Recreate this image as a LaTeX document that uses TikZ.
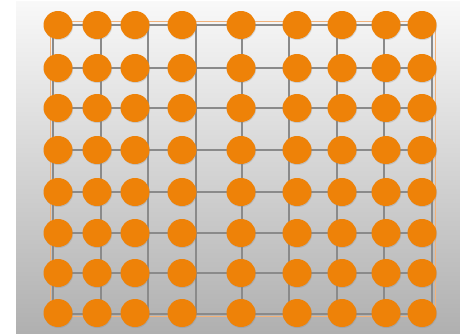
\documentclass[tikz,border=0pt]{standalone}
\usetikzlibrary{shadows,shapes.geometric}
\definecolor{dotorange}{HTML}{EE8208}
\definecolor{gridgray}{HTML}{8A8A8A}
\definecolor{frameorange}{HTML}{F2B27A}
\begin{document}
\begin{tikzpicture}[x=1pt,y=-1pt,
  dot/.style={ellipse,inner sep=0pt,minimum width=29pt,minimum height=28pt,fill=dotorange,
    drop shadow={opacity=0.25,shadow xshift=0.6pt,shadow yshift=-1pt}},
  gridline/.style={draw=gridgray,line width=1.1pt},
  frameline/.style={draw=frameorange,line width=0.8pt}]
\useasboundingbox (0,0) rectangle (460,335);
% background
\shade[top color=gray!5,bottom color=gray!62] (16,1) rectangle (460,333);
% frame
\draw[frameline] (50,21) rectangle (435,316);
% grid
\foreach \gx in {53,101,148,196,242,289,337,384,432}
  \draw[gridline] (\gx,25) -- (\gx,314);
\foreach \gy in {25,68,108,150,192,233,273,314}
  \draw[gridline] (53,\gy) -- (432,\gy);
% dots
\foreach \gy [count=\r] in {25,68,108,150,192,233,273,313}
  \foreach \gx [count=\c] in {58,97,135,182,241,297,342,386,422}
    \node[dot] (c-\r-\c) at (\gx,\gy) {};
\end{tikzpicture}
\end{document}
